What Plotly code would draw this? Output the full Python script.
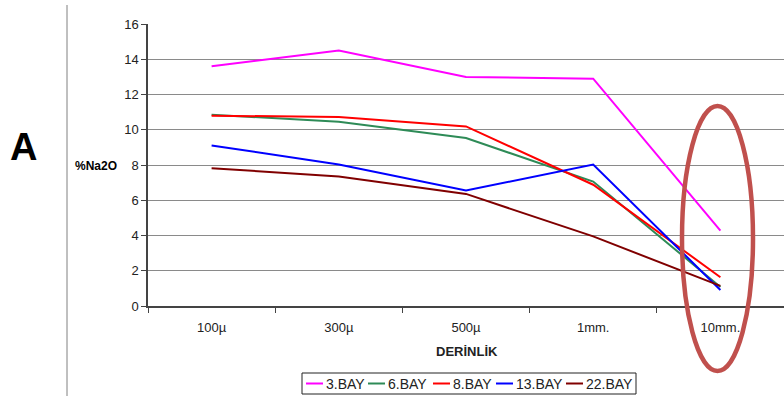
import plotly.graph_objects as go

depths = ["100µ", "300µ", "500µ", "1mm.", "10mm."]
bay3 = [13.6, 14.5, 13.0, 12.9, 4.28]
bay6 = [10.85, 10.45, 9.53, 7.06, 1.08]
bay8 = [10.8, 10.72, 10.19, 6.88, 1.63]
bay13 = [9.11, 8.03, 6.55, 8.03, 0.91]
bay22 = [7.82, 7.35, 6.36, 3.95, 1.14]

series = [
    ("3.BAY", bay3, "#FF00FF"),
    ("6.BAY", bay6, "#2E8B57"),
    ("8.BAY", bay8, "#FF0000"),
    ("13.BAY", bay13, "#0000FF"),
    ("22.BAY", bay22, "#800000"),
]

W, H = 784, 396
L, R, T, B = 148, 0, 24, 90
PW, PH = W - L - R, H - T - B


def px(x):
    return (x - L) / PW


def py(y):
    return (H - B - y) / PH


fig = go.Figure()
for name, vals, color in series:
    fig.add_trace(go.Scatter(x=depths, y=vals, name=name, mode="lines",
                             line=dict(color=color, width=2), showlegend=False))

font = "Liberation Sans, Arial, sans-serif"
fig.update_layout(
    width=W, height=H,
    margin=dict(l=L, r=R, t=T, b=B, autoexpand=False),
    paper_bgcolor="white", plot_bgcolor="white",
    font=dict(family=font, size=12, color="#222"),
    xaxis=dict(type="category", range=[-0.5, 4.5], tickson="boundaries",
               ticks="outside", ticklen=5, tickcolor="#444", showline=True,
               linecolor="#444", linewidth=1.5, showgrid=False, automargin=False,
               tickfont=dict(size=13, color="#222"), ticklabelstandoff=9),
    yaxis=dict(range=[0, 16], dtick=2, ticks="outside", ticklen=5, tickcolor="#444",
               showline=True, linecolor="#444", linewidth=1.5, automargin=False,
               gridcolor="#8a8a8a", gridwidth=1, zeroline=False,
               tickfont=dict(size=13, color="#222")),
)


def label(text, x, y, size, anchor="center", color="#222"):
    fig.add_annotation(text=text, xref="paper", yref="paper", x=px(x), y=py(y),
                       xanchor=anchor, yanchor="middle", showarrow=False,
                       font=dict(size=size, color=color))


# axis captions and panel label
label("<b>DERİNLİK</b>", 467, 351, 13)
label("<b>A</b>", 24, 147, 38, color="black")
label("<b>%Na2O</b>", 96, 166, 12, color="black")

# separator line and highlight ellipse
fig.add_shape(type="line", xref="paper", yref="paper", x0=px(67), x1=px(67),
              y0=py(5), y1=py(400), line=dict(color="#808080", width=1))
fig.add_shape(type="circle", xref="paper", yref="paper", x0=px(682), x1=px(753),
              y0=py(106), y1=py(371), line=dict(color="#C0504D", width=4.5))

# legend box with line samples and names
fig.add_shape(type="rect", xref="paper", yref="paper", x0=px(302), x1=px(636),
              y0=py(373), y1=py(394), line=dict(color="#222", width=1), fillcolor="white")
legend_x = [306, 368, 433, 496, 566]
for (name, _, color), lx in zip(series, legend_x):
    fig.add_shape(type="line", xref="paper", yref="paper", x0=px(lx), x1=px(lx + 17),
                  y0=py(383.5), y1=py(383.5), line=dict(color=color, width=2))
    label(name, lx + 18, 383.5, 14, anchor="left")

fig.write_html("out.html")
